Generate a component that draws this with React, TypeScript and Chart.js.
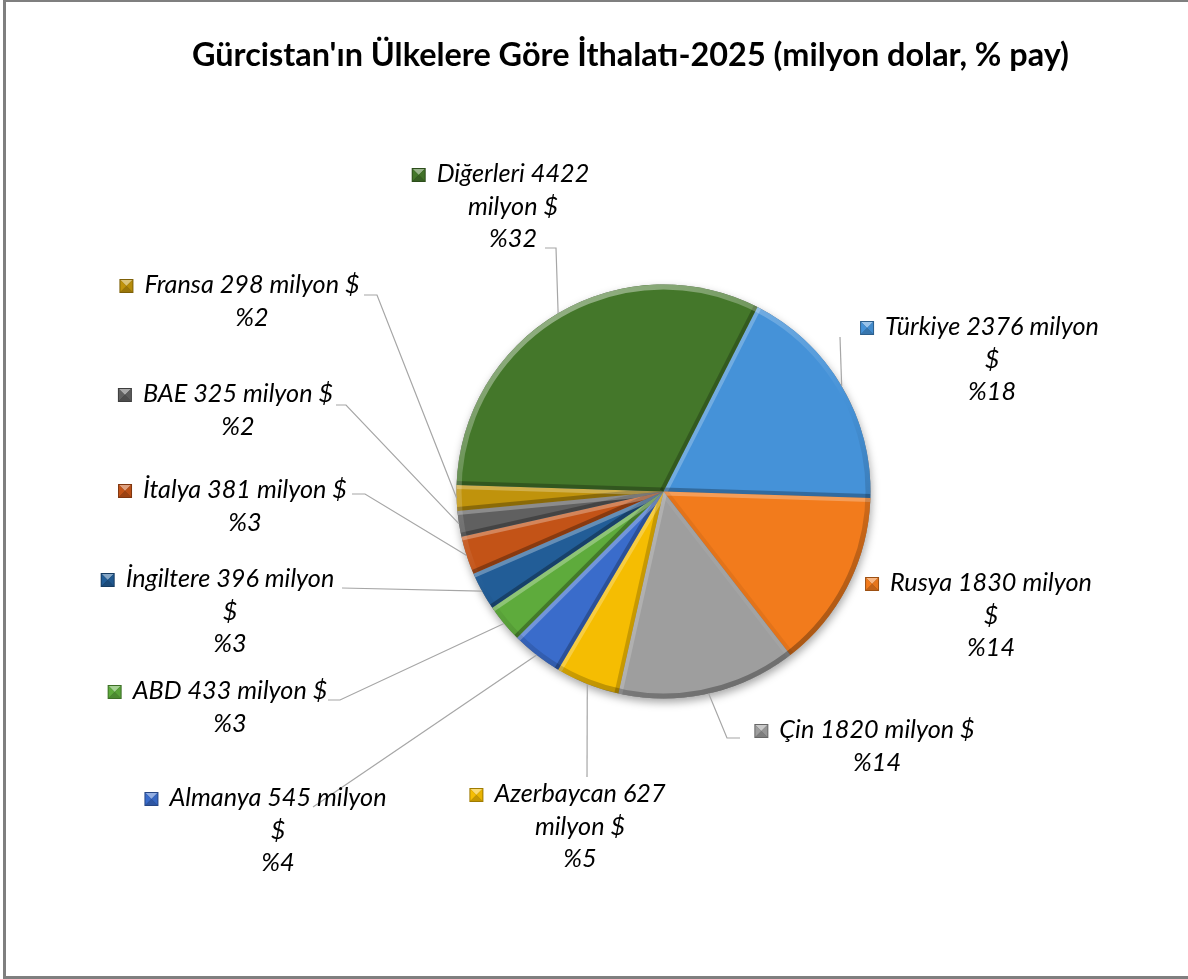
import React, { useEffect, useRef } from "react";
import { Chart, registerables } from "chart.js";

Chart.register(...registerables);

// ---------------- data ----------------
const countries = [
  "Türkiye",
  "Rusya",
  "Çin",
  "Azerbaycan",
  "Almanya",
  "ABD",
  "İngiltere",
  "İtalya",
  "BAE",
  "Fransa",
  "Diğerleri",
];
const importsMillionUsd = [2376, 1830, 1820, 627, 545, 433, 396, 381, 325, 298, 4422];
const sharePercent = [18, 14, 14, 5, 4, 3, 3, 3, 2, 2, 32];
const sliceColors = [
  "#4592D8",
  "#F27B1C",
  "#9E9E9E",
  "#F5BD02",
  "#3A6CCB",
  "#5EAB3C",
  "#225D97",
  "#C35317",
  "#606060",
  "#C0930C",
  "#44772A",
];

const TITLE = "Gürcistan'ın Ülkelere Göre İthalatı-2025 (milyon dolar, % pay)";
const FONT_FAMILY = "Lato, 'Open Sans', sans-serif";

// ---------------- layout (label placement) ----------------
type Pt = [number, number];
interface LabelLayout {
  cx: number;
  by: number;
  wrap: number;
  target: number;
  leader: Pt[] | null;
}
const labelLayout: LabelLayout[] = [
  { cx: 992, by: 335, wrap: 3, target: 213, leader: [[840, 337]] },
  { cx: 991, by: 591, wrap: 3, target: 200, leader: null },
  { cx: 877, by: 738, wrap: 4, target: 192, leader: [[740, 738], [727, 738]] },
  { cx: 580, by: 802, wrap: 2, target: 172, leader: [[587, 777]] },
  { cx: 278, by: 806, wrap: 3, target: 220, leader: [[313, 807]] },
  { cx: 230, by: 699, wrap: 4, target: 192, leader: [[328, 700], [340, 700]] },
  { cx: 230, by: 587, wrap: 3, target: 215, leader: [[342, 588]] },
  { cx: 245, by: 498, wrap: 4, target: 205, leader: [[352, 494], [365, 494]] },
  { cx: 238, by: 402, wrap: 4, target: 187, leader: [[336, 405], [346, 405]] },
  { cx: 252, by: 293, wrap: 4, target: 215, leader: [[364, 295], [377, 295]] },
  { cx: 513, by: 182, wrap: 2, target: 154, leader: [[545, 248], [556, 248]] },
];
const LINE_H = 32.5;

function hexToRgb(hex: string): [number, number, number] {
  const h = hex.replace("#", "");
  return [parseInt(h.slice(0, 2), 16), parseInt(h.slice(2, 4), 16), parseInt(h.slice(4, 6), 16)];
}
function shade(hex: string, amt: number): string {
  const [r, g, b] = hexToRgb(hex);
  const f = (c: number) =>
    Math.round(amt >= 0 ? c + (255 - c) * amt : c * (1 + amt));
  return `rgb(${f(r)},${f(g)},${f(b)})`;
}

function labelLines(i: number): string[] {
  const words = `${countries[i]} ${importsMillionUsd[i]} milyon $`.split(" ");
  const n = labelLayout[i].wrap;
  const lines = [words.slice(0, n).join(" ")];
  if (words.length > n) lines.push(words.slice(n).join(" "));
  lines.push(`%${sharePercent[i]}`);
  return lines;
}

function tri(ctx: CanvasRenderingContext2D, pts: number[], color: string) {
  ctx.beginPath();
  ctx.moveTo(pts[0], pts[1]);
  ctx.lineTo(pts[2], pts[3]);
  ctx.lineTo(pts[4], pts[5]);
  ctx.closePath();
  ctx.fillStyle = color;
  ctx.fill();
}

function drawMarker(ctx: CanvasRenderingContext2D, x: number, y: number, s: number, color: string) {
  const c = x + s / 2;
  const m = y + s / 2;
  ctx.save();
  ctx.fillStyle = shade(color, -0.35);
  ctx.fillRect(x, y, s, s);
  const i = 1;
  const x0 = x + i, y0 = y + i, x1 = x + s - i, y1 = y + s - i;
  tri(ctx, [x0, y0, x1, y0, c, m], shade(color, 0.45));
  tri(ctx, [x0, y0, x0, y1, c, m], color);
  tri(ctx, [x1, y0, x1, y1, c, m], shade(color, -0.05));
  tri(ctx, [x0, y1, x1, y1, c, m], shade(color, -0.2));
  ctx.restore();
}

const LIGHT = (() => {
  const lx = -0.45, ly = -0.9;
  const n = Math.hypot(lx, ly);
  return { x: lx / n, y: ly / n };
})();
function edgeStyle(nx: number, ny: number, hi = 0.35, lo = 0.28): string {
  const d = nx * LIGHT.x + ny * LIGHT.y;
  return d > 0 ? `rgba(255,255,255,${(hi * d).toFixed(3)})` : `rgba(0,0,0,${(lo * -d).toFixed(3)})`;
}

const piePlugin = {
  id: "pieDecor",
  beforeDatasetsDraw(chart: any) {
    const ctx: CanvasRenderingContext2D = chart.ctx;
    const meta = chart.getDatasetMeta(0);
    const el = meta.data[0];
    if (!el) return;
    const { x, y, outerRadius } = el.getProps(["x", "y", "outerRadius"], true);
    ctx.save();
    ctx.shadowColor = "rgba(0,0,0,0.35)";
    ctx.shadowBlur = 9;
    ctx.shadowOffsetX = 1;
    ctx.shadowOffsetY = 4;
    ctx.beginPath();
    ctx.arc(x, y, outerRadius, 0, Math.PI * 2);
    ctx.fillStyle = "#777";
    ctx.fill();
    ctx.restore();
  },
  afterDatasetsDraw(chart: any) {
    const ctx: CanvasRenderingContext2D = chart.ctx;
    const meta = chart.getDatasetMeta(0);
    const el0 = meta.data[0];
    if (!el0) return;
    const { x: cx, y: cy, outerRadius: R } = el0.getProps(["x", "y", "outerRadius"], true);

    // radial edge bevels per slice
    meta.data.forEach((el: any) => {
      const { x, y, startAngle, endAngle, outerRadius } = el.getProps(
        ["x", "y", "startAngle", "endAngle", "outerRadius"],
        true
      );
      ctx.save();
      ctx.beginPath();
      ctx.moveTo(x, y);
      ctx.arc(x, y, outerRadius, startAngle, endAngle);
      ctx.closePath();
      ctx.clip();
      ctx.lineWidth = 8;
      ctx.lineCap = "butt";
      ctx.beginPath();
      ctx.moveTo(x, y);
      ctx.lineTo(x + Math.cos(startAngle) * outerRadius, y + Math.sin(startAngle) * outerRadius);
      ctx.strokeStyle = edgeStyle(Math.sin(startAngle), -Math.cos(startAngle), 0.3, 0.3);
      ctx.stroke();
      ctx.beginPath();
      ctx.moveTo(x, y);
      ctx.lineTo(x + Math.cos(endAngle) * outerRadius, y + Math.sin(endAngle) * outerRadius);
      ctx.strokeStyle = edgeStyle(-Math.sin(endAngle), Math.cos(endAngle), 0.3, 0.3);
      ctx.stroke();
      ctx.restore();
    });

    // outer rim bevel with a conic gradient
    ctx.save();
    ctx.beginPath();
    ctx.arc(cx, cy, R, 0, Math.PI * 2);
    ctx.clip();
    const anyCtx = ctx as any;
    if (typeof anyCtx.createConicGradient === "function") {
      const g = anyCtx.createConicGradient(0, cx, cy);
      const N = 72;
      for (let k = 0; k <= N; k++) {
        const a = (k / N) * Math.PI * 2;
        g.addColorStop(k / N, edgeStyle(Math.cos(a), Math.sin(a), 0.4, 0.3));
      }
      ctx.strokeStyle = g;
      ctx.lineWidth = 10;
      ctx.beginPath();
      ctx.arc(cx, cy, R, 0, Math.PI * 2);
      ctx.stroke();
    }
    ctx.restore();
  },
  afterDraw(chart: any) {
    const ctx: CanvasRenderingContext2D = chart.ctx;
    const meta = chart.getDatasetMeta(0);

    // title
    ctx.save();
    ctx.font = `bold 28px ${FONT_FAMILY}`;
    const tw = ctx.measureText(TITLE).width;
    const tSize = (28 * 877) / tw;
    ctx.font = `bold ${tSize.toFixed(2)}px ${FONT_FAMILY}`;
    ctx.fillStyle = "#000";
    ctx.textAlign = "center";
    ctx.textBaseline = "alphabetic";
    ctx.fillText(TITLE, 630.5, 66);
    ctx.restore();

    // label font size fitted to the reference widths
    ctx.save();
    ctx.font = `italic 24px ${FONT_FAMILY}`;
    let measured = 0;
    let target = 0;
    labelLayout.forEach((lay, i) => {
      measured += ctx.measureText(labelLines(i)[0]).width;
      target += lay.target;
    });
    const lSize = (24 * target) / measured;
    ctx.font = `italic ${lSize.toFixed(2)}px ${FONT_FAMILY}`;

    // leader lines
    ctx.strokeStyle = "#A6A6A6";
    ctx.lineWidth = 1.2;
    labelLayout.forEach((lay, i) => {
      if (!lay.leader) return;
      const el = meta.data[i];
      const { x, y, startAngle, endAngle, outerRadius } = el.getProps(
        ["x", "y", "startAngle", "endAngle", "outerRadius"],
        true
      );
      const mid = (startAngle + endAngle) / 2;
      const px = x + Math.cos(mid) * outerRadius;
      const py = y + Math.sin(mid) * outerRadius;
      ctx.beginPath();
      ctx.moveTo(lay.leader[0][0], lay.leader[0][1]);
      for (let k = 1; k < lay.leader.length; k++) ctx.lineTo(lay.leader[k][0], lay.leader[k][1]);
      ctx.lineTo(px, py);
      ctx.stroke();
    });

    // labels
    ctx.textAlign = "center";
    ctx.textBaseline = "alphabetic";
    labelLayout.forEach((lay, i) => {
      const lines = labelLines(i);
      ctx.fillStyle = "#000";
      lines.forEach((ln, k) => {
        ctx.fillText(ln, lay.cx, lay.by + k * LINE_H);
      });
      const w1 = ctx.measureText(lines[0]).width;
      const left = lay.cx - w1 / 2;
      const s = 14;
      drawMarker(ctx, left - 11 - s, lay.by - s, s, sliceColors[i]);
    });
    ctx.restore();
  },
};

export default function App() {
  const canvasRef = useRef<HTMLCanvasElement | null>(null);

  useEffect(() => {
    const canvas = canvasRef.current;
    if (!canvas) return;
    const chart = new Chart(canvas, {
      type: "pie",
      data: {
        labels: countries,
        datasets: [
          {
            data: sharePercent,
            backgroundColor: sliceColors,
            borderWidth: 0,
          },
        ],
      },
      options: {
        responsive: false,
        animation: false,
        devicePixelRatio: 1,
        rotation: 27,
        radius: 207,
        events: [],
        layout: { padding: { left: 450, right: 311, top: 280, bottom: 276 } },
        plugins: {
          legend: { display: false },
          tooltip: { enabled: false },
          title: { display: false },
        },
      } as any,
      plugins: [piePlugin],
    });
    return () => chart.destroy();
  }, []);

  return (
    <div
      style={{
        position: "fixed",
        left: 0,
        top: 0,
        width: 1188,
        height: 979,
        overflow: "hidden",
        background: "#fff",
      }}
    >
      <div
        style={{
          position: "absolute",
          left: 3,
          top: -1,
          width: 1200,
          height: 974,
          border: "3px solid #7F7F7F",
        }}
      />
      <canvas
        ref={canvasRef}
        width={1188}
        height={979}
        style={{ position: "absolute", left: 0, top: 0, width: 1188, height: 979 }}
      />
    </div>
  );
}
